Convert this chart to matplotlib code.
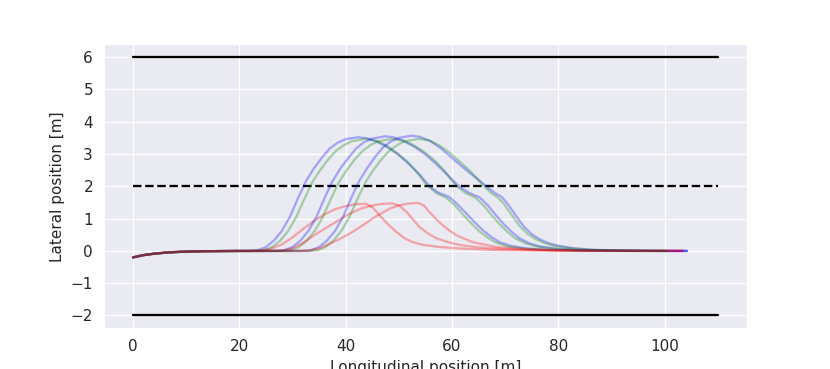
import matplotlib
matplotlib.use("Agg")
import matplotlib.pyplot as plt
import seaborn as sns

sns.set_style("darkgrid")

# Lane boundaries
lane_x = [0, 110]
lane_top = [6, 6]
lane_mid = [2, 2]
lane_bot = [-2, -2]

# Common start of all trajectories
start_x = [0, 2, 4, 6, 8, 10, 12, 14, 17, 20]
start_y = [-0.2, -0.13, -0.085, -0.055, -0.035, -0.022, -0.014, -0.009, -0.004, -0.001]

# Blue trajectories
blue1_x = [22, 23.5, 25, 26.5, 28, 29.5, 31, 32.5, 34, 35.5, 37, 38.5, 40, 42.3,
           44, 46, 48, 50, 52, 54, 55.8, 57.5, 59.5, 61, 62.7, 64.2, 65.8, 67.5, 69,
           71, 74, 78, 85, 95, 104.2]
blue1_y = [0, 0.02, 0.12, 0.32, 0.62, 1.05, 1.62, 2.15, 2.55, 2.88, 3.17, 3.35, 3.46, 3.52,
           3.49, 3.38, 3.2, 2.97, 2.68, 2.35, 2.0, 1.8, 1.67, 1.45, 1.16, 0.9, 0.64, 0.42, 0.27,
           0.16, 0.08, 0.03, 0.01, 0.0, 0.0]
blue2_x = [27, 28.5, 30, 31.5, 33, 34.5, 36, 37.5, 39, 40.5, 42, 43.5, 45, 47.4,
           49, 51, 53, 55, 57, 59, 61.3, 63.2, 65.2, 66.8, 68.3, 69.8, 71.3, 72.8, 74.5,
           76.5, 79.5, 84, 90, 97, 104.2]
blue2_y = [0, 0.02, 0.12, 0.32, 0.62, 1.05, 1.62, 2.15, 2.55, 2.88, 3.18, 3.37, 3.48, 3.55,
           3.52, 3.4, 3.22, 2.99, 2.7, 2.38, 2.0, 1.8, 1.66, 1.4, 1.1, 0.82, 0.58, 0.38, 0.24,
           0.14, 0.07, 0.02, 0.01, 0.0, 0.0]
blue3_x = [32, 33.5, 35, 36.5, 38, 39.5, 41, 42.5, 44, 45.5, 47, 48.5, 50, 52.4,
           54, 56, 58, 60, 62, 64, 66.5, 68, 69.3, 70.5, 72, 73.5, 75, 76.5, 78,
           80, 83, 87, 93, 99, 104.2]
blue3_y = [0, 0.02, 0.12, 0.32, 0.62, 1.05, 1.62, 2.15, 2.55, 2.9, 3.2, 3.39, 3.5, 3.57,
           3.53, 3.4, 3.17, 2.88, 2.6, 2.33, 2.0, 1.8, 1.68, 1.45, 1.1, 0.76, 0.52, 0.36, 0.25,
           0.16, 0.08, 0.03, 0.01, 0.0, 0.0]

# Green trajectories
green1_x = [23, 24.7, 26.2, 27.7, 29.2, 30.7, 32.2, 33.7, 35.2, 36.7, 38.2, 39.7, 41.2, 43.8,
            45.5, 47.5, 49.5, 51.5, 53.5, 55.2, 57, 59, 60.5, 62.1, 63.6, 65.2, 66.9, 68.4,
            70.4, 73.4, 77.4, 85, 100.4]
green1_y = [0, 0.02, 0.12, 0.32, 0.62, 1.05, 1.6, 2.12, 2.5, 2.83, 3.1, 3.28, 3.4, 3.47,
            3.42, 3.28, 3.05, 2.78, 2.42, 2.05, 1.8, 1.64, 1.42, 1.12, 0.86, 0.6, 0.39, 0.25,
            0.14, 0.07, 0.03, 0.01, 0.0]
green2_x = [28, 29.7, 31.2, 32.7, 34.2, 35.7, 37.2, 38.7, 40.2, 41.7, 43.2, 44.7, 46.2, 48.8,
            50.5, 52.5, 54.5, 56.5, 58.5, 60.6, 62.5, 64.5, 66, 67.5, 69, 70.5, 72, 73.8,
            75.8, 78.8, 83, 90, 100.4]
green2_y = [0, 0.02, 0.12, 0.32, 0.62, 1.05, 1.6, 2.12, 2.5, 2.83, 3.1, 3.28, 3.4, 3.47,
            3.43, 3.3, 3.1, 2.84, 2.5, 2.05, 1.8, 1.64, 1.4, 1.1, 0.82, 0.58, 0.38, 0.24,
            0.14, 0.07, 0.02, 0.01, 0.0]
green3_x = [33, 34.7, 36.2, 37.7, 39.2, 40.7, 42.2, 43.7, 45.2, 46.7, 48.2, 49.7, 51.2, 53.8,
            55.5, 57.5, 59.5, 61.5, 63.5, 65.8, 67.3, 68.6, 69.8, 71.3, 72.8, 74.3, 75.8, 77.3,
            79.3, 82.3, 86.5, 92, 100.4]
green3_y = [0, 0.02, 0.12, 0.32, 0.62, 1.05, 1.6, 2.12, 2.5, 2.83, 3.1, 3.28, 3.4, 3.47,
            3.43, 3.28, 3.05, 2.76, 2.46, 2.05, 1.8, 1.66, 1.45, 1.1, 0.76, 0.52, 0.36, 0.25,
            0.15, 0.08, 0.03, 0.01, 0.0]

# Red trajectories
red1_x = [22, 24, 26, 28, 30, 32, 34, 36, 38, 40, 42, 43.8, 45, 46.4, 48, 49.6, 51,
          52.6, 54.5, 57.7, 62, 68, 75, 85, 95, 103.4]
red1_y = [0, 0.01, 0.07, 0.2, 0.42, 0.68, 0.92, 1.13, 1.29, 1.39, 1.45, 1.46, 1.36, 1.1,
          0.82, 0.58, 0.4, 0.27, 0.19, 0.12, 0.07, 0.03, 0.015, 0.005, 0.0, 0.0]
red2_x = [26, 28, 30, 32, 34.6, 37, 39, 40.8, 43, 45.1, 47, 48.9, 50.2, 51.5, 52.7,
          53.9, 55.5, 57.1, 59.5, 62, 65, 68.4, 75, 85, 95, 103.4]
red2_y = [0, 0.01, 0.08, 0.25, 0.54, 0.78, 0.98, 1.16, 1.32, 1.41, 1.46, 1.47, 1.39, 1.2,
          0.97, 0.74, 0.54, 0.39, 0.26, 0.17, 0.11, 0.07, 0.03, 0.01, 0.0, 0.0]
red3_x = [31, 33, 35, 37, 39, 40.8, 43.2, 45.5, 48.3, 50, 51.5, 53.6, 54.7, 55.8, 57,
          58.3, 59.6, 60.9, 63.9, 68.4, 74, 80, 90, 103.4]
red3_y = [0, 0.01, 0.08, 0.22, 0.38, 0.54, 0.79, 1.05, 1.31, 1.41, 1.46, 1.49, 1.41, 1.2,
          0.99, 0.79, 0.62, 0.48, 0.27, 0.12, 0.05, 0.02, 0.005, 0.0]

fig, ax = plt.subplots(figsize=(830 / 110, 369 / 110), dpi=110)

ax.plot(lane_x, lane_top, color="k", lw=1.5)
ax.plot(lane_x, lane_mid, color="k", lw=1.5, ls="--")
ax.plot(lane_x, lane_bot, color="k", lw=1.5)

trajs = [
    (blue1_x, blue1_y, "b"), (green1_x, green1_y, "g"), (red1_x, red1_y, "r"),
    (blue2_x, blue2_y, "b"), (green2_x, green2_y, "g"), (red2_x, red2_y, "r"),
    (blue3_x, blue3_y, "b"), (green3_x, green3_y, "g"), (red3_x, red3_y, "r"),
]
for xs, ys, c in trajs:
    ax.plot(start_x + xs, start_y + ys, color=c, alpha=0.3, lw=1.5)

ax.set_xlabel("Longitudinal position [m]")
ax.set_ylabel("Lateral position [m]")

fig.savefig("out.png", dpi=110)
